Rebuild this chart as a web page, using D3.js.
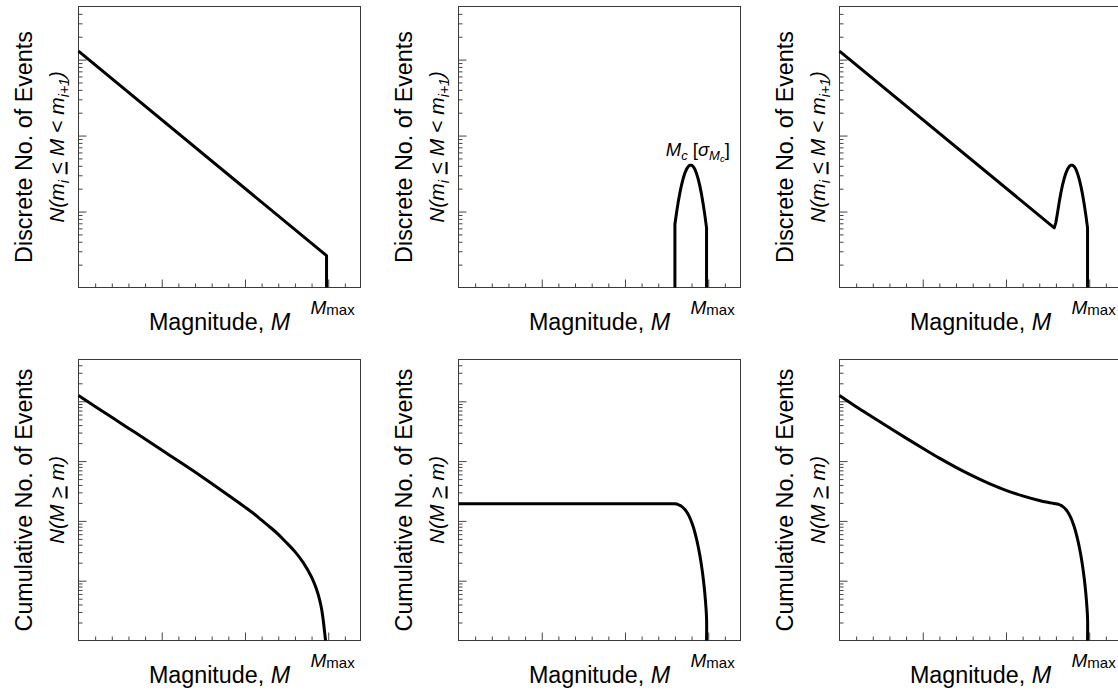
<!DOCTYPE html>
<html><head><meta charset="utf-8">
<script src="https://cdn.jsdelivr.net/npm/d3@7"></script>
<style>
body{margin:0;background:#fff}
svg{display:block}
text{font-family:"Liberation Sans",Arial,Helvetica,sans-serif;fill:#000;white-space:pre}
</style>
</head><body>
<svg id="chart" width="1118" height="694"></svg>
<script>
// ---------------- data ----------------
const xDomain = [4.0, 5.694];
const xMinorTicks = [4.1, 4.2, 4.3, 4.4, 4.6, 4.7, 4.8, 4.9, 5.1, 5.2, 5.3, 5.4, 5.6];
const xMajorTicks = [4.5, 5.0, 5.5];
const discreteYDomain = [1, 5000];
const cumulativeYDomain = [1, 50000];
const discreteYMajor = [10, 100, 1000];
const cumulativeYMajor = [10, 100, 1000, 10000];
const Mmax = 5.49;
const Mc = 5.395;

const xTitle = "Magnitude, ";
const xTitleVar = "M";
const discreteTitle = "Discrete No. of Events";
const cumulativeTitle = "Cumulative No. of Events";

// top-left: discrete Gutenberg-Richter
const grDiscM = [4.0, 5.49, 5.49];
const grDiscN = [1290, 2.63, 1];

// top-middle: discrete characteristic
const chDiscM = [5.30, 5.30, 5.31, 5.32, 5.33, 5.34, 5.35, 5.36, 5.37, 5.38, 5.39, 5.40, 5.41, 5.42, 5.43, 5.44, 5.45, 5.46, 5.47, 5.48, 5.49, 5.49];
const chDiscN = [1, 6.8, 9.7, 13.4, 17.7, 22.5, 27.4, 32.1, 36.2, 39.2, 40.8, 40.8, 39.1, 36.0, 31.6, 26.7, 21.6, 16.8, 12.5, 8.9, 6.1, 1];

// top-right: discrete hybrid
const hyDiscM = [4.0, 5.29, 5.30, 5.31, 5.32, 5.33, 5.34, 5.35, 5.36, 5.37, 5.38, 5.39, 5.40, 5.41, 5.42, 5.43, 5.44, 5.45, 5.46, 5.47, 5.48, 5.49, 5.49];
const hyDiscN = [1290, 6.1, 7.2, 9.7, 13.4, 17.7, 22.5, 27.4, 32.1, 36.2, 39.2, 40.8, 40.8, 39.1, 36.0, 31.6, 26.7, 21.6, 16.8, 12.5, 8.9, 6.1, 1];

// bottom-left: cumulative Gutenberg-Richter
const grCumM = [4.0, 4.1, 4.2, 4.3, 4.4, 4.5, 4.6, 4.7, 4.8, 4.9, 5.0, 5.05, 5.1, 5.15, 5.2, 5.25, 5.3, 5.35, 5.4, 5.43, 5.45, 5.46, 5.47, 5.477, 5.484];
const grCumN = [12450, 8200, 5400, 3550, 2340, 1530, 1003, 655, 422, 268, 170, 134, 103, 79, 59.5, 43, 30.6, 20.1, 11.5, 7.2, 4.6, 3.4, 2.2, 1.5, 1];

// bottom-middle: cumulative characteristic
const chCumM = [4.0, 5.28, 5.30, 5.31, 5.32, 5.33, 5.34, 5.35, 5.36, 5.37, 5.38, 5.39, 5.40, 5.41, 5.42, 5.43, 5.44, 5.45, 5.46, 5.47, 5.48, 5.49, 5.49];
const chCumN = [194, 194, 194, 191.3, 187.4, 182.1, 175, 166, 155.1, 142.3, 127.8, 112.2, 95.9, 79.6, 64.0, 49.6, 37.0, 26.3, 17.7, 11.0, 6.0, 2.4, 1];

// bottom-right: cumulative hybrid
const hyCumM = [4.0, 4.1, 4.2, 4.3, 4.4, 4.5, 4.6, 4.7, 4.8, 4.9, 5.0, 5.1, 5.2, 5.25, 5.28, 5.30, 5.31, 5.32, 5.33, 5.34, 5.35, 5.36, 5.37, 5.38, 5.39, 5.40, 5.41, 5.42, 5.43, 5.44, 5.45, 5.46, 5.47, 5.48, 5.49, 5.49];
const hyCumN = [12450, 8100, 5400, 3600, 2420, 1640, 1120, 785, 565, 420, 325, 262, 220, 205, 198, 194, 191.3, 187.4, 182.1, 175, 166, 155.1, 142.3, 127.8, 112.2, 95.9, 79.6, 64.0, 49.6, 37.0, 26.3, 17.7, 11.0, 6.0, 2.4, 1];

// ---------------- layout ----------------
const colLeft = [78.5, 458.5, 839.5];
const rowTop = [6.5, 359.5];
const W = 282, H = 281;

const svg = d3.select("#chart");

const panels = [
  {col:0,row:0,M:grDiscM,N:grDiscN,type:"d"},
  {col:1,row:0,M:chDiscM,N:chDiscN,type:"d",mc:true},
  {col:2,row:0,M:hyDiscM,N:hyDiscN,type:"d"},
  {col:0,row:1,M:grCumM,N:grCumN,type:"c"},
  {col:1,row:1,M:chCumM,N:chCumN,type:"c"},
  {col:2,row:1,M:hyCumM,N:hyCumN,type:"c"}
];

panels.forEach(p => {
  const g = svg.append("g").attr("transform", `translate(${colLeft[p.col]},${rowTop[p.row]})`);
  const x = d3.scaleLinear().domain(xDomain).range([0, W]);
  const yDom = p.type === "d" ? discreteYDomain : cumulativeYDomain;
  const yMaj = p.type === "d" ? discreteYMajor : cumulativeYMajor;
  const y = d3.scaleLog().domain(yDom).range([H, 0]);
  const yMinor = y.ticks().filter(v => !yMaj.includes(v) && v > yDom[0] && v < yDom[1]);

  const styleAxis = sel => {
    sel.select(".domain").remove();
    sel.selectAll("line").attr("stroke", "#444").attr("stroke-width", 1);
    sel.selectAll("text").remove();
  };
  g.append("g").attr("transform", `translate(0,${H})`)
    .call(d3.axisBottom(x).tickValues(xMinorTicks).tickSize(-4).tickFormat("")).call(styleAxis);
  g.append("g").attr("transform", `translate(0,${H})`)
    .call(d3.axisBottom(x).tickValues(xMajorTicks).tickSize(-8).tickFormat("")).call(styleAxis);
  g.append("g").call(d3.axisLeft(y).tickValues(yMinor).tickSize(-4).tickFormat("")).call(styleAxis);
  g.append("g").call(d3.axisLeft(y).tickValues(yMaj).tickSize(-8).tickFormat("")).call(styleAxis);

  g.append("rect").attr("x", 0).attr("y", 0).attr("width", W).attr("height", H)
    .attr("fill", "none").attr("stroke", "#3a3a3a").attr("stroke-width", 1);

  const data = p.M.map((m, i) => ({M: m, N: p.N[i]}));
  const curve = p.type === "c" ? d3.curveCatmullRom.alpha(0.5) : d3.curveLinear;
  g.append("path").datum(data)
    .attr("fill", "none").attr("stroke", "#000").attr("stroke-width", 3)
    .attr("stroke-linejoin", "round")
    .attr("d", d3.line().curve(curve).x(d => x(d.M)).y(d => y(d.N)));

  // x title
  const xt = g.append("text").attr("x", W / 2).attr("y", H + 42)
    .attr("text-anchor", "middle").style("font-size", "23.3px");
  xt.append("tspan").text(xTitle);
  xt.append("tspan").style("font-style", "italic").text(xTitleVar);

  // Mmax label
  const mm = g.append("text").attr("x", x(Mmax) - 16).attr("y", H + 26);
  mm.append("tspan").style("font-style", "italic").style("font-size", "19px").text("M");
  mm.append("tspan").style("font-size", "15px").attr("dy", 1).text("max");

  // y title line 1
  g.append("text").attr("transform", `translate(${-47},${H / 2}) rotate(-90)`)
    .attr("text-anchor", "middle").style("font-size", "23.3px")
    .text(p.type === "d" ? discreteTitle : cumulativeTitle);

  // y title line 2
  const t2 = g.append("text").attr("transform", `translate(${-15},${H / 2}) rotate(-90)`)
    .attr("text-anchor", "middle").style("font-size", "21px").style("font-style", "italic");
  if (p.type === "d") {
    t2.append("tspan").text("N(m");
    t2.append("tspan").style("font-size", "14px").attr("dy", 5).text("i");
    t2.append("tspan").attr("dy", -5).text(" ");
    t2.append("tspan").style("text-decoration", "underline").style("font-style", "normal").text("<");
    t2.append("tspan").text(" M ");
    t2.append("tspan").style("font-style", "normal").text("<");
    t2.append("tspan").text(" m");
    t2.append("tspan").style("font-size", "14px").attr("dy", 5).text("i+1");
    t2.append("tspan").attr("dy", -5).text(")");
  } else {
    t2.append("tspan").text("N(M ");
    t2.append("tspan").style("text-decoration", "underline").style("font-style", "normal").text(">");
    t2.append("tspan").text(" m)");
  }

  if (p.mc) {
    const mc = g.append("text").attr("x", x(Mc) - 25).attr("y", 149.5).style("font-size", "18.5px");
    mc.append("tspan").style("font-style", "italic").text("M");
    mc.append("tspan").style("font-style", "italic").style("font-size", "13px").attr("dy", 4).text("c");
    mc.append("tspan").attr("dy", -4).text(" [");
    mc.append("tspan").style("font-style", "italic").text("σ");
    mc.append("tspan").style("font-style", "italic").style("font-size", "13px").attr("dy", 4).text("M");
    mc.append("tspan").style("font-style", "italic").style("font-size", "9.5px").attr("dy", 2).text("c");
    mc.append("tspan").attr("dy", -6).text("]");
  }
});
</script>
</body></html>
